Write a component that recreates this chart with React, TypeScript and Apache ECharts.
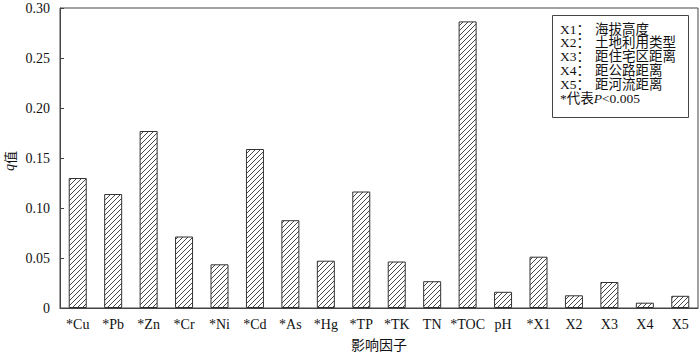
import React, { useEffect, useRef } from "react";
import * as echarts from "echarts";

const categories = ["*Cu", "*Pb", "*Zn", "*Cr", "*Ni", "*Cd", "*As", "*Hg", "*TP", "*TK", "TN", "*TOC", "pH", "*X1", "X2", "X3", "X4", "X5"];
const qValues = [0.130, 0.114, 0.177, 0.0715, 0.0437, 0.159, 0.0878, 0.0473, 0.1165, 0.0465, 0.0268, 0.2866, 0.0162, 0.0513, 0.0127, 0.026, 0.0053, 0.0122];
const yMin = 0;
const yMax = 0.3;
const yInterval = 0.05;
const legendCodes = ["X1：", "X2：", "X3：", "X4：", "X5："];
const legendNames = ["海拔高度", "土地利用类型", "距住宅区距离", "距公路距离", "距河流距离"];
const xTitle = "影响因子";

const SERIF = "'Liberation Serif', 'Times New Roman', 'Noto Sans CJK SC', serif";
const CJK = "'Noto Sans CJK SC', sans-serif";

function makeHatch(): HTMLCanvasElement {
  const c = document.createElement("canvas");
  c.width = 5;
  c.height = 5;
  const ctx = c.getContext("2d")!;
  ctx.fillStyle = "#ffffff";
  ctx.fillRect(0, 0, 5, 5);
  ctx.strokeStyle = "#333333";
  ctx.lineWidth = 0.9;
  ctx.beginPath();
  ctx.moveTo(-1, 6);
  ctx.lineTo(6, -1);
  ctx.moveTo(-1, 1);
  ctx.lineTo(1, -1);
  ctx.moveTo(4, 6);
  ctx.lineTo(6, 4);
  ctx.stroke();
  return c;
}

export default function App() {
  const ref = useRef<HTMLDivElement>(null);
  useEffect(() => {
    document.body.style.margin = "0";
    const chart = echarts.init(ref.current!, null, { renderer: "svg" });
    const hatch = makeHatch();
    const lineYs = [29, 42.8, 56.6, 70.4, 84.2, 98];
    const legendTexts: any[] = [];
    legendCodes.forEach((code, i) => {
      legendTexts.push({
        type: "text",
        x: 560,
        y: lineYs[i],
        z: 11,
        style: {
          text: code,
          font: `13.5px ${SERIF}`,
          fill: "#111",
          verticalAlign: "middle",
          align: "left",
        },
      });
      legendTexts.push({
        type: "text",
        x: 595,
        y: lineYs[i],
        z: 11,
        style: {
          text: legendNames[i],
          font: `13.5px ${SERIF}`,
          fill: "#111",
          verticalAlign: "middle",
          align: "left",
        },
      });
    });
    legendTexts.push({
      type: "text",
      x: 560,
      y: lineYs[5],
      z: 11,
      style: {
        text: "*代表{i|P}<0.005",
        font: `13.5px ${SERIF}`,
        fill: "#111",
        verticalAlign: "middle",
        align: "left",
        rich: {
          i: { fontFamily: "'Liberation Serif', serif", fontStyle: "italic", fontSize: 13.5, fill: "#111" },
        },
      },
    });
    chart.setOption({
      animation: false,
      backgroundColor: "#fff",
      grid: {
        left: 60,
        right: 2,
        top: 8,
        bottom: 43,
        show: true,
        borderColor: "#444",
        borderWidth: 1,
        backgroundColor: "transparent",
      },
      xAxis: {
        type: "category",
        data: categories,
        name: xTitle,
        nameLocation: "middle",
        nameGap: 29,
        nameTextStyle: { fontFamily: CJK, fontSize: 14, color: "#111" },
        axisLine: { show: true, lineStyle: { color: "#444", width: 1 } },
        axisTick: { show: false },
        axisLabel: { fontFamily: SERIF, fontSize: 14, color: "#111", margin: 9, interval: 0 },
        splitLine: { show: false },
      },
      yAxis: {
        type: "value",
        min: yMin,
        max: yMax,
        interval: yInterval,
        axisLine: { show: true, lineStyle: { color: "#444", width: 1 } },
        axisTick: { show: true, inside: true, length: 4, lineStyle: { color: "#444" } },
        axisLabel: {
          fontFamily: SERIF,
          fontSize: 14,
          color: "#111",
          margin: 10,
          formatter: (v: number) => (v === 0 ? "0" : v.toFixed(2)),
        },
        splitLine: { show: false },
      },
      series: [
        {
          type: "bar",
          data: qValues,
          barWidth: 18,
          itemStyle: {
            color: { image: hatch, repeat: "repeat", imageWidth: 5, imageHeight: 5 } as any,
            borderColor: "#333",
            borderWidth: 1,
          },
        },
      ],
      graphic: [
        {
          type: "rect",
          shape: { x: 552.5, y: 15.5, width: 136, height: 102 },
          style: { fill: "#fff", stroke: "#444", lineWidth: 1 },
          z: 10,
        },
        ...legendTexts,
        {
          type: "text",
          x: 9,
          y: 161,
          rotation: Math.PI / 2,
          style: {
            text: "{i|q}值",
            font: `13px ${CJK}`,
            fill: "#111",
            align: "center",
            verticalAlign: "middle",
            rich: {
              i: { fontStyle: "italic", fontFamily: "'Liberation Serif', serif", fontSize: 14, fill: "#111" },
            },
          },
        },
      ],
    });
    return () => chart.dispose();
  }, []);
  return (
    <div
      ref={ref}
      style={{ position: "fixed", left: 0, top: 0, width: 700, height: 356, background: "#fff" }}
    />
  );
}
